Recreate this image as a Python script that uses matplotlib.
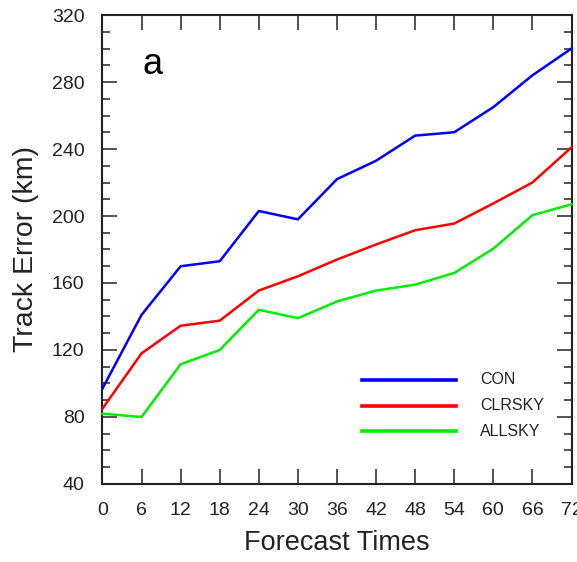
import matplotlib.pyplot as plt
from matplotlib.ticker import MultipleLocator

plt.rcParams['font.family'] = ['Liberation Sans', 'DejaVu Sans']

hours = [0, 6, 12, 18, 24, 30, 36, 42, 48, 54, 60, 66, 72]
con = [97, 141, 170, 173, 203, 198, 222, 233, 248, 250, 265, 284, 300]
clrsky = [85, 118, 134.5, 137.5, 155.5, 164, 174, 183, 191.5, 195.5, 207.5, 220, 241]
allsky = [82, 80, 111.5, 120, 144, 139, 149, 155.5, 159, 166, 180.5, 200.5, 207]

names = ["CON", "CLRSKY", "ALLSKY"]
colors = ["#0000ff", "#ff0000", "#00ee00"]

fig = plt.figure(figsize=(5.77, 5.62), dpi=100)
ax = fig.add_axes([0.1776, 0.1388, 0.9905 - 0.1776, 0.9733 - 0.1388])

for vals, c in zip([con, clrsky, allsky], colors):
    ax.plot(hours, vals, color=c, lw=1.8, clip_on=False, zorder=3)

ax.set_xlim(0, 72)
ax.set_ylim(40, 320)
ax.set_xticks(hours)
ax.yaxis.set_major_locator(MultipleLocator(40))
ax.yaxis.set_minor_locator(MultipleLocator(10))

ax.tick_params(which='both', direction='in', top=True, right=True, color='#444444', width=1.3)
ax.tick_params(which='major', length=11, labelsize=14, labelcolor='#222222')
ax.tick_params(which='minor', length=5.5)
ax.tick_params(axis='x', which='major', pad=13)
ax.tick_params(axis='y', which='major', pad=13)
for s in ax.spines.values():
    s.set_linewidth(1.5)
    s.set_color('#222222')

ax.set_xlabel("Forecast Times", fontsize=19.5, labelpad=8, color='#222222')
ax.set_ylabel("Track Error (km)", fontsize=20.5, labelpad=9, color='#222222')

ax.text(0.085, 0.875, "a", transform=ax.transAxes, fontsize=26)

# legend
leg_y = [0.222, 0.167, 0.112]
for name, c, yy in zip(names, colors, leg_y):
    ax.plot([0.553, 0.754], [yy, yy], color=c, lw=2.6, transform=ax.transAxes)
    ax.text(0.805, yy, name, transform=ax.transAxes, fontsize=11.5, va='center', color='#222222')

fig.savefig("out.png", dpi=100)
